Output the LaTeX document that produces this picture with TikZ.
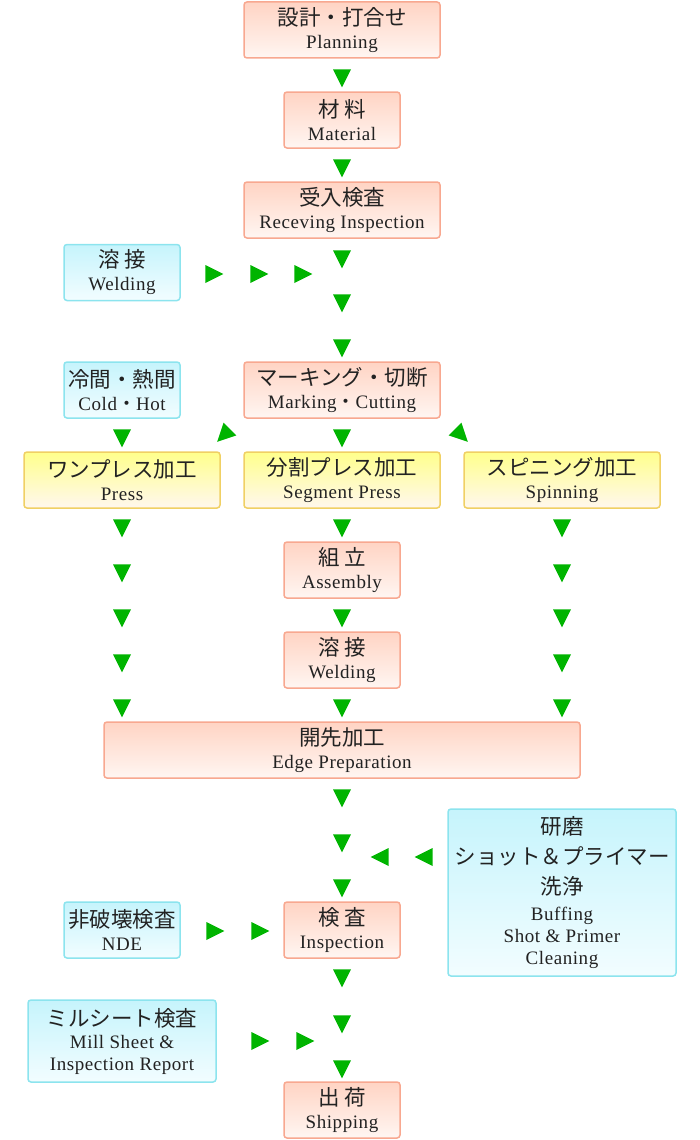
\documentclass[tikz,border=0pt]{standalone}
\usepackage{fontspec}
\usepackage{xcolor}
\usetikzlibrary{shapes.geometric}

\newfontfamily\jpfont{Noto Sans CJK JP}
\newfontfamily\enfont{Liberation Serif}[LetterSpace=3]
\newcommand{\jp}[1]{{\jpfont\fontsize{21.5}{23}\selectfont #1}}
\newcommand{\en}[1]{{\enfont\fontsize{19}{23}\selectfont #1}}
\newcommand{\nkg}{{\jpfont ・}}

\definecolor{textgray}{RGB}{34,34,34}
\definecolor{redline}{RGB}{248,168,144}
\definecolor{redtop}{RGB}{255,212,196}
\definecolor{redbot}{RGB}{255,246,242}
\definecolor{cyanline}{RGB}{140,228,238}
\definecolor{cyantop}{RGB}{198,244,252}
\definecolor{cyanbot}{RGB}{242,253,255}
\definecolor{yelline}{RGB}{240,208,100}
\definecolor{yeltop}{RGB}{255,255,140}
\definecolor{yelbot}{RGB}{255,247,238}
\definecolor{arrowgreen}{RGB}{0,180,0}

\begin{document}
\begin{tikzpicture}[x=1pt,y=-1pt,
  box/.style={rounded corners=3pt,line width=1.5pt,align=center,inner sep=0pt,
    text=textgray,font=\fontsize{18}{23}\selectfont},
  redbox/.style={box,draw=redline,top color=redtop,bottom color=redbot},
  cyanbox/.style={box,draw=cyanline,top color=cyantop,bottom color=cyanbot},
  yelbox/.style={box,draw=yelline,top color=yeltop,bottom color=yelbot},
  broad/.style={minimum width=196,minimum height=56},
  narrow/.style={minimum width=116,minimum height=56},
  tri/.style={isosceles triangle,isosceles triangle stretches,fill=arrowgreen,
    draw=none,inner sep=0pt,minimum width=18,minimum height=18},
  tridown/.style={tri,rotate=-90},
  triright/.style={tri},
  trileft/.style={tri,rotate=180},
  tridl/.style={tri,rotate=-135},
  tridr/.style={tri,rotate=-45}]
  \useasboundingbox (0,0) rectangle (700,1140);

  \node (plan) at (342,30) [redbox,broad] {\jp{設計・打合せ}\\\en{Planning}};
  \node (mat) at (342,120) [redbox,narrow] {\jp{材 料}\\\en{Material}};
  \node (recv) at (342,210) [redbox,broad] {\jp{受入検査}\\\en{Receving Inspection}};
  \node (weldin) at (122,272.5) [cyanbox,narrow] {\jp{溶 接}\\\en{Welding}};
  \node (mark) at (342,390) [redbox,broad] {\jp{マーキング・切断}\\\en{Marking\nkg Cutting}};
  \node (coldhot) at (122,390) [cyanbox,narrow] {\jp{冷間・熱間}\\\en{Cold\nkg Hot}};
  \node (press) at (122,480) [yelbox,broad] {\jp{ワンプレス加工}\\\en{Press}};
  \node (segm) at (342,480) [yelbox,broad] {\jp{分割プレス加工}\\\en{Segment Press}};
  \node (spin) at (562,480) [yelbox,broad] {\jp{スピニング加工}\\\en{Spinning}};
  \node (assy) at (342,570) [redbox,narrow] {\jp{組 立}\\\en{Assembly}};
  \node (weld) at (342,660) [redbox,narrow] {\jp{溶 接}\\\en{Welding}};
  \node (edge) at (342,750) [redbox,minimum width=476,minimum height=56] {\jp{開先加工}\\\en{Edge Preparation}};
  \node (buff) at (562,892.5) [cyanbox,minimum width=228,minimum height=167]
    {\jp{研磨}\\[7pt]\jp{ショット＆プライマー}\\[7pt]\jp{洗浄}\\[3pt]\en{Buffing}\\[-1pt]\en{Shot \& Primer}\\[-1pt]\en{Cleaning}};
  \node (nde) at (122,930) [cyanbox,narrow] {\jp{非破壊検査}\\\en{NDE}};
  \node (insp) at (342,930) [redbox,narrow] {\jp{検 査}\\\en{Inspection}};
  \node (mill) at (122,1041) [cyanbox,minimum width=188,minimum height=82]
    {\jp{ミルシート検査}\\[-1pt]\en{Mill Sheet \&}\\[-1pt]\en{Inspection Report}};
  \node (ship) at (342,1110) [redbox,narrow] {\jp{出 荷}\\\en{Shipping}};

  \node (c1) at (342,75) [tridown] {};
  \node (c2) at (342,165) [tridown] {};
  \node (c3) at (342,256) [tridown] {};
  \node (c4) at (342,300) [tridown] {};
  \node (c5) at (342,345) [tridown] {};
  \node (c6) at (342,435) [tridown] {};
  \node (c7) at (342,525) [tridown] {};
  \node (c8) at (342,615) [tridown] {};
  \node (c9) at (342,705) [tridown] {};
  \node (c10) at (342,795) [tridown] {};
  \node (c11) at (342,840) [tridown] {};
  \node (c12) at (342,885) [tridown] {};
  \node (c13) at (342,975) [tridown] {};
  \node (c14) at (342,1021) [tridown] {};
  \node (c15) at (342,1066) [tridown] {};

  \node (l1) at (122,435) [tridown] {};
  \node (l2) at (122,525) [tridown] {};
  \node (l3) at (122,570) [tridown] {};
  \node (l4) at (122,615) [tridown] {};
  \node (l5) at (122,660) [tridown] {};
  \node (l6) at (122,705) [tridown] {};

  \node (r1) at (562,525) [tridown] {};
  \node (r2) at (562,570) [tridown] {};
  \node (r3) at (562,615) [tridown] {};
  \node (r4) at (562,660) [tridown] {};
  \node (r5) at (562,705) [tridown] {};

  \node (w1) at (211,274) [triright] {};
  \node (w2) at (256,274) [triright] {};
  \node (w3) at (300,274) [triright] {};
  \node (n1) at (212,931) [triright] {};
  \node (n2) at (257,931) [triright] {};
  \node (m1) at (257,1041) [triright] {};
  \node (m2) at (302,1041) [triright] {};
  \node (b1) at (383,857) [trileft] {};
  \node (b2) at (427,857) [trileft] {};

  \node (dl) at (226,433) [tridl] {};
  \node (dr) at (459,433) [tridr] {};
\end{tikzpicture}
\end{document}
